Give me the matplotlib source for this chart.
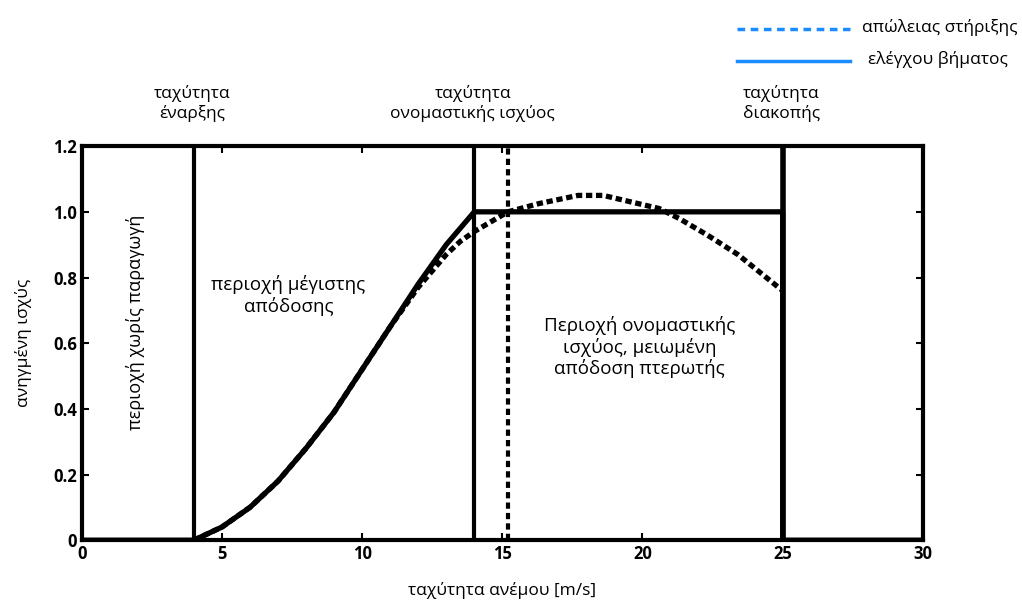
import matplotlib
matplotlib.use("Agg")
import matplotlib.pyplot as plt
from matplotlib.lines import Line2D

plt.rcParams['font.family'] = ['Open Sans', 'DejaVu Sans']

# Normalised power of a pitch-controlled turbine (solid)
pitch_wind = [0, 4, 5, 6, 7, 8, 9, 10, 11, 12, 13, 14, 25, 25, 30]
pitch_power = [0, 0, 0.04, 0.10, 0.18, 0.28, 0.39, 0.52, 0.65, 0.78, 0.90, 1.0, 1.0, 0, 0]

# Normalised power of a stall-regulated turbine (dashed)
stall_wind = [4, 5, 6, 7, 8, 9, 10, 11, 12, 13, 13.5, 14, 14.7, 15.2, 16.3, 17.7,
              18.6, 19.6, 20.6, 21.3, 22.3, 23.4, 24.85, 25]
stall_power = [0, 0.04, 0.10, 0.18, 0.28, 0.39, 0.52, 0.65, 0.77, 0.87, 0.91, 0.94,
               0.975, 1.0, 1.025, 1.05, 1.05, 1.03, 1.01, 0.98, 0.93, 0.87, 0.77, 0.76]

# Characteristic wind speeds
cut_in = 4
rated = 14
stall_rated = 15.2
cut_out = 25

x_ticks = [0, 5, 10, 15, 20, 25, 30]
y_ticks = [0, 0.2, 0.4, 0.6, 0.8, 1.0, 1.2]
y_tick_labels = ['0', '0.2', '0.4', '0.6', '0.8', '1.0', '1.2']

legend_labels = ['απώλειας στήριξης', 'ελέγχου βήματος']

fig = plt.figure(figsize=(10.22, 6.09), dpi=100)
ax = fig.add_axes([0.080, 0.113, 0.823, 0.647])

ax.plot(pitch_wind, pitch_power, color='black', lw=3.8, solid_joinstyle='round')
ax.plot(stall_wind, stall_power, color='black', lw=3.8, linestyle=(0, (1.2, 0.7)))

for xv in (cut_in, rated):
    ax.axvline(xv, color='black', lw=3)
ax.axvline(cut_out, color='black', lw=4)
ax.axvline(stall_rated, color='black', lw=3, linestyle=(0, (1.5, 1)))

ax.set_xlim(0, 30)
ax.set_ylim(0, 1.2)
ax.set_xticks(x_ticks)
ax.set_yticks(y_ticks)
ax.set_yticklabels(y_tick_labels)
ax.tick_params(direction='in', top=True, right=True, length=5, width=1.5,
               labelsize=12)
for lab in ax.get_xticklabels() + ax.get_yticklabels():
    lab.set_fontweight('bold')
for s in ax.spines.values():
    s.set_linewidth(3)

fs = 12.5
ax.set_xlabel('ταχύτητα ανέμου [m/s]', fontsize=fs, labelpad=14)
ax.set_ylabel('ανηγμένη ισχύς', fontsize=fs, labelpad=15)

# Region annotations inside the axes
ax.text(1.93, 0.665, 'περιοχή χωρίς παραγωγή', rotation=90, ha='center',
        va='center', fontsize=13)
ax.text(7.37, 0.745, 'περιοχή μέγιστης\nαπόδοσης', ha='center', va='center',
        fontsize=13.5, linespacing=1.15)
ax.text(19.9, 0.588, 'Περιοχή ονομαστικής\nισχύος, μειωμένη\nαπόδοση πτερωτής',
        ha='center', va='center', fontsize=13.5, linespacing=1.15)

# Speed labels above the axes
for xv, txt in ((cut_in, 'ταχύτητα\nέναρξης'),
                (rated, 'ταχύτητα\nονομαστικής ισχύος'),
                (cut_out, 'ταχύτητα\nδιακοπής')):
    ax.text(xv - 0.05, 1.33, txt, ha='center', va='center', fontsize=fs,
            linespacing=1.2)

# Legend in the upper right corner
blue = '#1a8cff'
fig.add_artist(Line2D([0.721, 0.832], [1 - 29 / 609] * 2, color=blue, lw=2.5,
                      linestyle=(0, (2.2, 1.6))))
fig.add_artist(Line2D([0.721, 0.832], [1 - 61 / 609] * 2, color=blue, lw=2.5))
fig.text(0.843, 1 - 27 / 609, legend_labels[0], ha='left', va='center', fontsize=fs)
fig.text(0.849, 1 - 59 / 609, legend_labels[1], ha='left', va='center', fontsize=fs)

fig.savefig('out.png', dpi=100)
